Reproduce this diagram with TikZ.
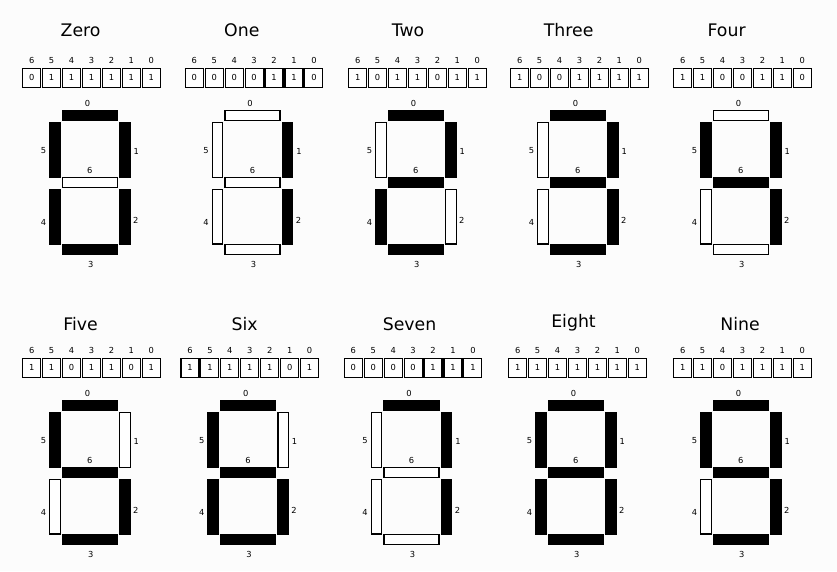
\documentclass[tikz,border=0pt]{standalone}
\usepackage{fontspec}
\setmainfont{DejaVu Sans}
\colorlet{seg1}{black}
\colorlet{seg0}{white}
\definecolor{bgcol}{RGB}{252,252,252}
\tikzset{
  digtitle/.style={font=\fontsize{17.3}{20}\selectfont, inner sep=0pt, anchor=south},
  smalllbl/.style={font=\fontsize{8.3}{10}\selectfont, inner sep=0pt},
  bitcell/.style={draw=black, line width=1.1pt, minimum width=18pt, minimum height=18.9pt, inner sep=0pt, fill=white, font=\fontsize{8.3}{10}\selectfont},
  segment/.style={draw=black, line width=1.2pt},
}
\newcommand\drawdigit[7]{%
  \node[digtitle] (#1-t) at (#3,#4) {#2};
  \foreach \bv [count=\i from 0] in {#7} {
    \pgfmathtruncatemacro\bn{6-\i}
    \node[bitcell] (#1-c\bn) at ({#5+9.97+\i*19.94},{#6+10}) {\bv};
    \node[smalllbl] (#1-i\bn) at ({#5+9.97+\i*19.94},{#6-7.2}) {\bn};
  }
  \foreach \k/\xa/\ya/\xb/\yb/\lx/\ly in {
      0/13.3/0.6/68.4/11.1/38.5/-5.6,
      1/70.6/13.0/81.1/67.8/87.3/41.7,
      2/70.6/79.6/81.1/134.4/86.8/110.7,
      3/13.3/134.6/68.4/145.1/41.8/154.7,
      4/0.6/79.6/11.1/134.4/-5.5/113.2,
      5/0.6/13.0/11.1/67.8/-5.5/40.7,
      6/13.3/67.6/68.4/78.1/40.8/60.7} {
    \pgfmathtruncatemacro\sv{{#7}[6-\k]}
    \draw[segment, fill=seg\sv] ({#5+27.3+\xa},{#6+41.8+\ya}) rectangle ({#5+27.3+\xb},{#6+41.8+\yb});
    \node[smalllbl] (#1-l\k) at ({#5+27.3+\lx},{#6+41.8+\ly}) {\k};
  }
}
\begin{document}
\begin{tikzpicture}[x=1pt, y=-1pt]
  \fill[bgcol] (0,0) rectangle (837,571);
  \useasboundingbox (0,0) rectangle (837,571);
  \drawdigit{zero}{Zero}{80.6}{36.7}{21.7}{67.7}{0,1,1,1,1,1,1}
  \drawdigit{one}{One}{241.8}{36.7}{184.3}{67.7}{0,0,0,0,1,1,0}
  \drawdigit{two}{Two}{408}{36.7}{347.7}{67.7}{1,0,1,1,0,1,1}
  \drawdigit{three}{Three}{568.6}{36.7}{509.7}{67.7}{1,0,0,1,1,1,1}
  \drawdigit{four}{Four}{726.6}{36.7}{672.7}{67.7}{1,1,0,0,1,1,0}
  \drawdigit{five}{Five}{80.5}{331}{21.7}{357.7}{1,1,0,1,1,0,1}
  \drawdigit{six}{Six}{244.7}{331}{180}{357.7}{1,1,1,1,1,0,1}
  \drawdigit{seven}{Seven}{409.5}{331}{343.3}{357.7}{0,0,0,0,1,1,1}
  \drawdigit{eight}{Eight}{573.5}{331}{507.7}{357.7}{1,1,1,1,1,1,1}
  \drawdigit{nine}{Nine}{740}{331}{672.7}{357.7}{1,1,0,1,1,1,1}
\end{tikzpicture}
\end{document}
